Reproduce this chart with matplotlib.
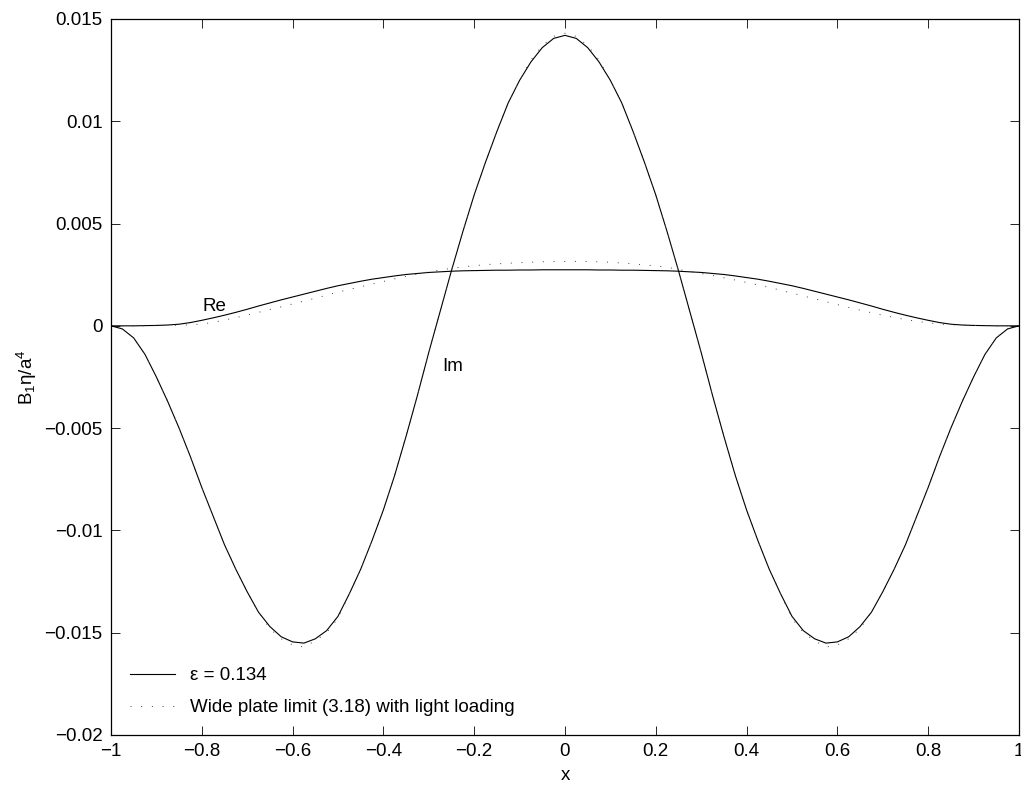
import numpy as np
import matplotlib
matplotlib.use("Agg")
import matplotlib.pyplot as plt

plt.rcParams["font.family"] = ["Liberation Sans", "DejaVu Sans"]
plt.rcParams["mathtext.default"] = "regular"

# sample positions along the plate, -1 to 1 in steps of 0.025
x = np.round(np.linspace(-1, 1, 81), 3)

# eps = 0.134, imaginary part
im_eps = [0.0, -0.00015, -0.00059, -0.0014, -0.0025, -0.0037, -0.0050, -0.0064, -0.0079, -0.0093,
          -0.0107, -0.0119, -0.0130, -0.0140, -0.0147, -0.0152, -0.01545, -0.01551, -0.0153, -0.0149,
          -0.0142, -0.0131, -0.0119, -0.0105, -0.0090, -0.0073, -0.0054, -0.0034, -0.0013, 0.0007,
          0.0027, 0.0046, 0.0064, 0.0080, 0.0095, 0.0109, 0.0120, 0.0129, 0.0136, 0.01405,
          0.0142,
          0.01405, 0.0136, 0.0129, 0.0120, 0.0109, 0.0095, 0.0080, 0.0064, 0.0046, 0.0027,
          0.0007, -0.0013, -0.0034, -0.0054, -0.0073, -0.0090, -0.0105, -0.0119, -0.0131, -0.0142,
          -0.0149, -0.0153, -0.01551, -0.01545, -0.0152, -0.0147, -0.0140, -0.0130, -0.0119, -0.0107,
          -0.0093, -0.0079, -0.0064, -0.0050, -0.0037, -0.0025, -0.0014, -0.00059, -0.00015, 0.0]

# eps = 0.134, real part
re_eps = [0.0, 0.0, 0.0, 0.00001, 0.00002, 0.00004, 0.00008, 0.00016, 0.00027, 0.00039,
          0.00052, 0.00066, 0.00081, 0.00097, 0.00112, 0.00127, 0.00141, 0.00155, 0.00169, 0.00183,
          0.00196, 0.00207, 0.00218, 0.00228, 0.00236, 0.00244, 0.00251, 0.00256, 0.00261, 0.00264,
          0.00267, 0.00269, 0.00270, 0.00271, 0.00272, 0.00272, 0.00273, 0.00273, 0.00274, 0.00274,
          0.00274,
          0.00274, 0.00274, 0.00273, 0.00273, 0.00272, 0.00272, 0.00271, 0.00270, 0.00269, 0.00267,
          0.00264, 0.00261, 0.00256, 0.00251, 0.00244, 0.00236, 0.00228, 0.00218, 0.00207, 0.00196,
          0.00183, 0.00169, 0.00155, 0.00141, 0.00127, 0.00112, 0.00097, 0.00081, 0.00066, 0.00052,
          0.00039, 0.00027, 0.00016, 0.00008, 0.00004, 0.00002, 0.00001, 0.0, 0.0, 0.0]

# wide plate limit (3.18), imaginary part
im_wide = [0.0, -0.00015, -0.00059, -0.0014, -0.0025, -0.0037, -0.0050, -0.0064, -0.0079, -0.0093,
           -0.0107, -0.0119, -0.0130, -0.0140, -0.0148, -0.0153, -0.0156, -0.0157, -0.0154, -0.0150,
           -0.0143, -0.0131, -0.0119, -0.0105, -0.0090, -0.0073, -0.0054, -0.0034, -0.0013, 0.0007,
           0.0027, 0.0046, 0.0064, 0.0080, 0.0095, 0.0109, 0.0120, 0.0130, 0.0137, 0.01415,
           0.0143,
           0.01415, 0.0137, 0.0130, 0.0120, 0.0109, 0.0095, 0.0080, 0.0064, 0.0046, 0.0027,
           0.0007, -0.0013, -0.0034, -0.0054, -0.0073, -0.0090, -0.0105, -0.0119, -0.0131, -0.0143,
           -0.0150, -0.0154, -0.0157, -0.0156, -0.0153, -0.0148, -0.0140, -0.0130, -0.0119, -0.0107,
           -0.0093, -0.0079, -0.0064, -0.0050, -0.0037, -0.0025, -0.0014, -0.00059, -0.00015, 0.0]

# wide plate limit (3.18), real part
re_wide = [0.0, 0.0, 0.0, 0.0, 0.00001, 0.00002, 0.00003, 0.00005, 0.00009, 0.00017,
           0.00028, 0.00040, 0.00053, 0.00066, 0.00080, 0.00093, 0.00107, 0.00121, 0.00135, 0.00150,
           0.00165, 0.00178, 0.00191, 0.00204, 0.00217, 0.00230, 0.00242, 0.00253, 0.00264, 0.00273,
           0.00281, 0.00288, 0.00294, 0.00299, 0.00303, 0.00306, 0.00309, 0.00311, 0.00313, 0.00314,
           0.00315,
           0.00315, 0.00315, 0.00313, 0.00311, 0.00307, 0.00303, 0.00298, 0.00293, 0.00286, 0.00276,
           0.00266, 0.00256, 0.00246, 0.00235, 0.00224, 0.00212, 0.00200, 0.00188, 0.00174, 0.00160,
           0.00146, 0.00132, 0.00118, 0.00104, 0.00090, 0.00077, 0.00064, 0.00052, 0.00041, 0.00031,
           0.00022, 0.00015, 0.00009, 0.00005, 0.00003, 0.00002, 0.00001, 0.0, 0.0, 0.0]

xticks = [-1, -0.8, -0.6, -0.4, -0.2, 0, 0.2, 0.4, 0.6, 0.8, 1]
xtick_labels = ["\u22121", "\u22120.8", "\u22120.6", "\u22120.4", "\u22120.2", "0",
                "0.2", "0.4", "0.6", "0.8", "1"]
yticks = [-0.02, -0.015, -0.01, -0.005, 0, 0.005, 0.01, 0.015]
ytick_labels = ["\u22120.02", "\u22120.015", "\u22120.01", "\u22120.005", "0",
                "0.005", "0.01", "0.015"]

fig = plt.figure(figsize=(10.21, 7.88), dpi=100)
ax = fig.add_axes([0.1087, 0.0673, 0.8893, 0.9086])

dots = (0, (1, 10))
ax.plot(x, re_eps, color="black", lw=0.8, label="\u03b5 = 0.134")
ax.plot(x, re_wide, color="0.25", lw=0.7, linestyle=dots,
        label="Wide plate limit (3.18) with light loading")
ax.plot(x, im_eps, color="black", lw=0.8)
ax.plot(x, im_wide, color="0.25", lw=0.7, linestyle=dots)

ax.text(-0.773, 0.00093, "Re", fontsize=13.5, ha="center", va="center")
ax.text(-0.247, -0.0020, "Im", fontsize=13.5, ha="center", va="center")

ax.set_xlim(-1, 1)
ax.set_ylim(-0.02, 0.015)
ax.set_xticks(xticks)
ax.set_xticklabels(xtick_labels)
ax.set_yticks(yticks)
ax.set_yticklabels(ytick_labels)
ax.tick_params(direction="in", length=6.5, width=0.6, top=True, right=True,
               labelsize=13.5, pad=6)
for s in ax.spines.values():
    s.set_linewidth(0.9)

ax.set_xlabel("x", fontsize=13.5, labelpad=5)
ax.set_ylabel("B$_1$\u03b7/a$^4$", fontsize=13.5, labelpad=4)

ax.legend(loc="lower left", frameon=False, fontsize=13.5, handlelength=2.4,
          handletextpad=0.8, labelspacing=0.8, borderaxespad=0.6)

fig.savefig("out.png", dpi=100)
